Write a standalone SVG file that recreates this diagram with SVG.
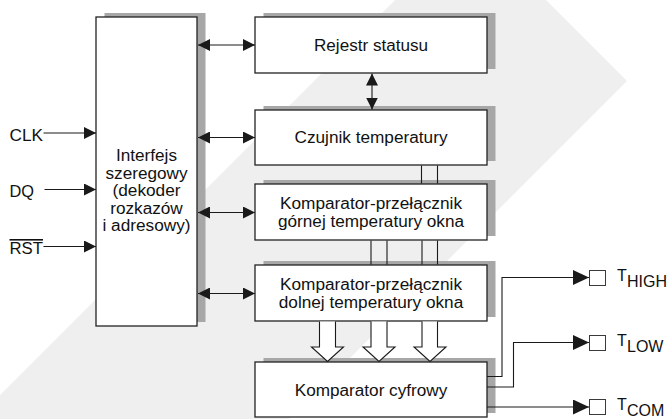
<svg xmlns="http://www.w3.org/2000/svg" width="667" height="419" viewBox="0 0 667 419">
<style>
.shadow{fill:#a7a7a7}
.box{fill:#fff;stroke:#222;stroke-width:1.3}
.wire{stroke:#1a1a1a;stroke-width:1.1;fill:none}
.hollow{fill:#fff;stroke:#1a1a1a;stroke-width:1.1}
.port{fill:#fff;stroke:#3a3a3a;stroke-width:1}
.lbl{font-family:"Liberation Sans",Arial,Helvetica,sans-serif;font-size:16px;fill:#111}
.c{text-anchor:middle}
</style>
<defs>
<marker id="ah" viewBox="0 0 12 12" refX="12" refY="6" markerWidth="12" markerHeight="12" markerUnits="userSpaceOnUse" orient="auto-start-reverse"><path d="M0,0 L12,6 L0,12 z" fill="#1a1a1a"/></marker>
<marker id="ahBig" viewBox="0 0 16 15" refX="16" refY="7.5" markerWidth="16" markerHeight="15" markerUnits="userSpaceOnUse" orient="auto"><path d="M0,0 L16,7.5 L0,15 z" fill="#1a1a1a"/></marker>
</defs>
<rect width="667" height="419" fill="#fff"/>
<g id="watermark">
<polygon points="0,395 395,0 546,0 627,81 289,419 0,419" fill="#efefef"/>
</g>
<g id="interfejs">
<rect class="shadow" x="104.5" y="13" width="101" height="309"/>
<rect class="box" x="96" y="17" width="101" height="309"/>
<text class="lbl c" x="146.5" y="161" textLength="61" lengthAdjust="spacingAndGlyphs">Interfejs</text>
<text class="lbl c" x="146.5" y="178.6" textLength="82" lengthAdjust="spacingAndGlyphs">szeregowy</text>
<text class="lbl c" x="146.5" y="196.2" textLength="68" lengthAdjust="spacingAndGlyphs">(dekoder</text>
<text class="lbl c" x="146.5" y="213.8" textLength="72.5" lengthAdjust="spacingAndGlyphs">rozkazów</text>
<text class="lbl c" x="146.5" y="231.4" textLength="88" lengthAdjust="spacingAndGlyphs">i adresowy)</text>
</g>
<g id="rejestr">
<rect class="shadow" x="263.5" y="13" width="232" height="56"/>
<rect class="box" x="255" y="17" width="232" height="56"/>
<text class="lbl c" x="371" y="50.5" textLength="114" lengthAdjust="spacingAndGlyphs">Rejestr statusu</text>
</g>
<g id="czujnik">
<rect class="shadow" x="263.5" y="106" width="232" height="55"/>
<rect class="box" x="255" y="110" width="232" height="55"/>
<text class="lbl c" x="371" y="142.5" textLength="153" lengthAdjust="spacingAndGlyphs">Czujnik temperatury</text>
</g>
<g id="komp-gorny">
<rect class="shadow" x="263.5" y="180" width="232" height="56"/>
<rect class="box" x="255" y="184" width="232" height="56"/>
<text class="lbl c" x="371" y="209" textLength="182" lengthAdjust="spacingAndGlyphs">Komparator-przełącznik</text>
<text class="lbl c" x="371" y="226.5" textLength="186" lengthAdjust="spacingAndGlyphs">górnej temperatury okna</text>
</g>
<g id="komp-dolny">
<rect class="shadow" x="263.5" y="261" width="232" height="56"/>
<rect class="box" x="255" y="265" width="232" height="56"/>
<text class="lbl c" x="371" y="290" textLength="182" lengthAdjust="spacingAndGlyphs">Komparator-przełącznik</text>
<text class="lbl c" x="371" y="307.5" textLength="184.5" lengthAdjust="spacingAndGlyphs">dolnej temperatury okna</text>
</g>
<g id="komp-cyfrowy">
<rect class="shadow" x="263.5" y="358" width="232" height="55"/>
<rect class="box" x="255" y="362" width="232" height="55"/>
<text class="lbl c" x="371" y="395.5" textLength="152.5" lengthAdjust="spacingAndGlyphs">Komparator cyfrowy</text>
</g>
<g id="inputs">
<text class="lbl" x="9.5" y="141" textLength="33.5" lengthAdjust="spacingAndGlyphs">CLK</text>
<text class="lbl" x="9.5" y="197" textLength="24.5" lengthAdjust="spacingAndGlyphs">DQ</text>
<text class="lbl" x="9.5" y="254" textLength="33.5" lengthAdjust="spacingAndGlyphs" text-decoration="overline">RST</text>
</g>
<g id="outputs">
<rect class="port" x="589.5" y="270.5" width="16" height="15"/>
<rect class="port" x="589.5" y="335.5" width="16" height="15"/>
<rect class="port" x="589.5" y="399.5" width="16" height="15"/>
<text class="lbl" x="617" y="281">T</text><text class="lbl" x="627" y="286.5">HIGH</text>
<text class="lbl" x="617" y="346">T</text><text class="lbl" x="627" y="351.5">LOW</text>
<text class="lbl" x="617" y="410">T</text><text class="lbl" x="627" y="415.5">COM</text>
</g>
<g id="connectors">
<line class="wire" x1="43.5" y1="133" x2="96" y2="133" marker-end="url(#ah)"/>
<line class="wire" x1="44.5" y1="189.5" x2="96" y2="189.5" marker-end="url(#ah)"/>
<line class="wire" x1="43.5" y1="246.5" x2="96" y2="246.5" marker-end="url(#ah)"/>
<line class="wire" x1="198" y1="45" x2="255" y2="45" marker-start="url(#ah)" marker-end="url(#ah)"/>
<line class="wire" x1="198" y1="137.5" x2="255" y2="137.5" marker-start="url(#ah)" marker-end="url(#ah)"/>
<line class="wire" x1="198" y1="212.5" x2="255" y2="212.5" marker-start="url(#ah)" marker-end="url(#ah)"/>
<line class="wire" x1="198" y1="293.5" x2="255" y2="293.5" marker-start="url(#ah)" marker-end="url(#ah)"/>
<line class="wire" x1="372" y1="73.5" x2="372" y2="109.5" marker-start="url(#ah)" marker-end="url(#ah)"/>
<path class="wire" d="M421.5,165.5 V183.5 M437.5,165.5 V183.5"/>
<path class="wire" d="M371,240.5 V264.5 M387,240.5 V264.5 M422,240.5 V264.5 M437.5,240.5 V264.5"/>
<path class="hollow" d="M319.5,321.5 V347 H311.5 L327.5,361.5 L343.5,347 H335.5 V321.5"/>
<path class="hollow" d="M371,321.5 V347 H363 L379,361.5 L395,347 H387 V321.5"/>
<path class="hollow" d="M422,321.5 V347 H414 L430,361.5 L446,347 H437.5 V321.5"/>
<path class="wire" d="M487,376.5 H502 V277.5 H589" marker-end="url(#ahBig)"/>
<path class="wire" d="M487,387 H513.5 V342.5 H589" marker-end="url(#ahBig)"/>
<path class="wire" d="M487,407 H589" marker-end="url(#ahBig)"/>
</g>
</svg>
